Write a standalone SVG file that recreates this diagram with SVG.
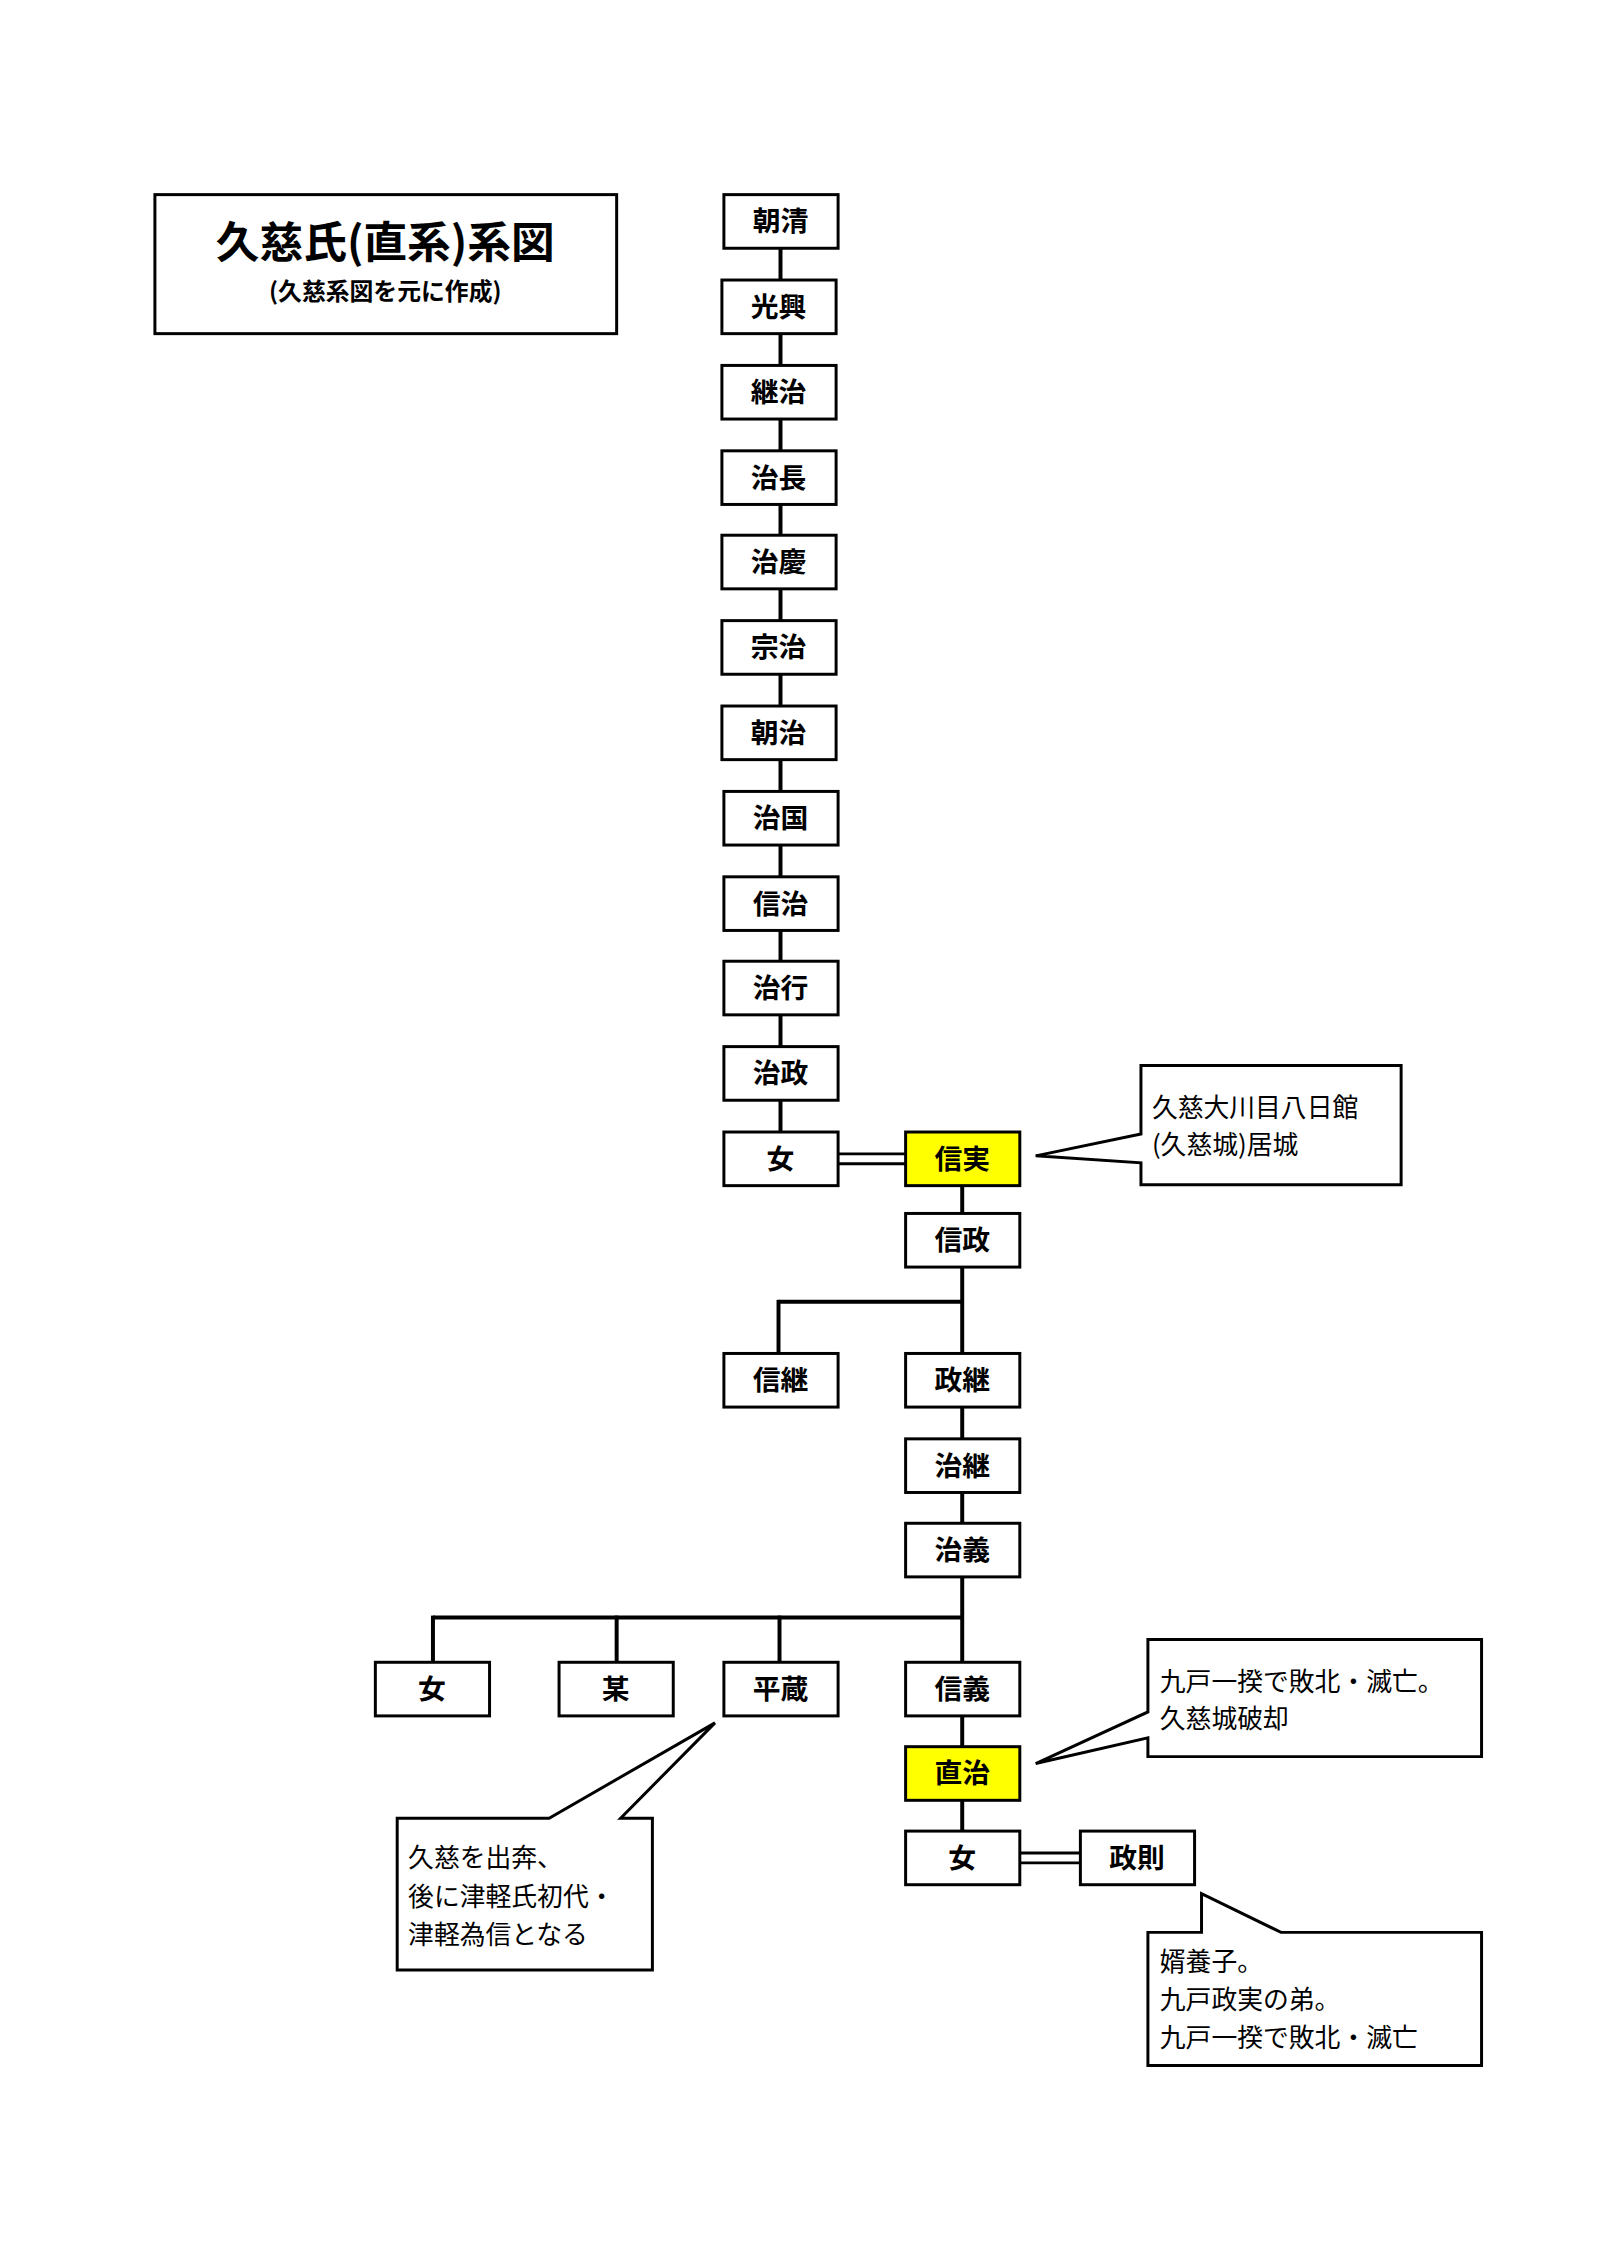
<svg xmlns="http://www.w3.org/2000/svg" width="1600" height="2263" viewBox="0 0 1600 2263">
<style>
.n rect{fill:#fff;stroke:#000;stroke-width:3}
.y rect{fill:#ff0}
text{font-family:"Noto Sans CJK JP",sans-serif;fill:#000}
.n text{font-size:28px;font-weight:bold;text-anchor:middle}
.c path{fill:#fff;stroke:#000;stroke-width:3}
.c text{font-size:26px}
#conn line{stroke:#000;stroke-width:4}
</style>
<rect width="1600" height="2263" fill="#fff"/>
<g transform="scale(0.993)">
<g id="title" class="n"><rect x="156" y="196" width="465" height="140"/>
<text x="388" y="260" style="font-size:44px">久慈氏(直系)系図</text>
<text x="388" y="302" style="font-size:24px">(久慈系図を元に作成)</text></g>
<g id="conn">
<line x1="786" y1="220" x2="786" y2="1167"/>
<line x1="844" y1="1162" x2="912" y2="1162" style="stroke-width:3"/>
<line x1="844" y1="1172" x2="912" y2="1172" style="stroke-width:3"/>
<line x1="969" y1="1194" x2="969" y2="1888"/>
<line x1="784" y1="1311" x2="969" y2="1311"/>
<line x1="784" y1="1309" x2="784" y2="1363"/>
<line x1="436" y1="1629" x2="969" y2="1629"/>
<line x1="436" y1="1627" x2="436" y2="1674"/>
<line x1="621" y1="1627" x2="621" y2="1674"/>
<line x1="785" y1="1627" x2="785" y2="1674"/>
<line x1="1027" y1="1866" x2="1088" y2="1866" style="stroke-width:3"/>
<line x1="1027" y1="1876" x2="1088" y2="1876" style="stroke-width:3"/>
</g>
<g id="n1" class="n"><rect x="729" y="196" width="115" height="54"/><text x="786" y="233">朝清</text></g>
<g id="n2" class="n"><rect x="727" y="282" width="115" height="54"/><text x="784" y="319">光興</text></g>
<g id="n3" class="n"><rect x="727" y="368" width="115" height="54"/><text x="784" y="405">継治</text></g>
<g id="n4" class="n"><rect x="727" y="454" width="115" height="54"/><text x="784" y="491">治長</text></g>
<g id="n5" class="n"><rect x="727" y="539" width="115" height="54"/><text x="784" y="576">治慶</text></g>
<g id="n6" class="n"><rect x="727" y="625" width="115" height="54"/><text x="784" y="662">宗治</text></g>
<g id="n7" class="n"><rect x="727" y="711" width="115" height="54"/><text x="784" y="748">朝治</text></g>
<g id="n8" class="n"><rect x="729" y="797" width="115" height="54"/><text x="786" y="834">治国</text></g>
<g id="n9" class="n"><rect x="729" y="883" width="115" height="54"/><text x="786" y="920">信治</text></g>
<g id="n10" class="n"><rect x="729" y="968" width="115" height="54"/><text x="786" y="1005">治行</text></g>
<g id="n11" class="n"><rect x="729" y="1054" width="115" height="54"/><text x="786" y="1091">治政</text></g>
<g id="n12" class="n"><rect x="729" y="1140" width="115" height="54"/><text x="786" y="1177">女</text></g>
<g id="n13" class="n y"><rect x="912" y="1140" width="115" height="54"/><text x="969" y="1177">信実</text></g>
<g id="n14" class="n"><rect x="912" y="1222" width="115" height="54"/><text x="969" y="1259">信政</text></g>
<g id="n15" class="n"><rect x="729" y="1363" width="115" height="54"/><text x="786" y="1400">信継</text></g>
<g id="n16" class="n"><rect x="912" y="1363" width="115" height="54"/><text x="969" y="1400">政継</text></g>
<g id="n17" class="n"><rect x="912" y="1449" width="115" height="54"/><text x="969" y="1486">治継</text></g>
<g id="n18" class="n"><rect x="912" y="1534" width="115" height="54"/><text x="969" y="1571">治義</text></g>
<g id="n19" class="n"><rect x="378" y="1674" width="115" height="54"/><text x="435" y="1711">女</text></g>
<g id="n20" class="n"><rect x="563" y="1674" width="115" height="54"/><text x="620" y="1711">某</text></g>
<g id="n21" class="n"><rect x="729" y="1674" width="115" height="54"/><text x="786" y="1711">平蔵</text></g>
<g id="n22" class="n"><rect x="912" y="1674" width="115" height="54"/><text x="969" y="1711">信義</text></g>
<g id="n23" class="n y"><rect x="912" y="1759" width="115" height="54"/><text x="969" y="1796">直治</text></g>
<g id="n24" class="n"><rect x="912" y="1844" width="115" height="54"/><text x="969" y="1881">女</text></g>
<g id="n25" class="n"><rect x="1088" y="1844" width="115" height="54"/><text x="1145" y="1881">政則</text></g>
<g id="c1" class="c"><path d="M1149,1073 H1411 V1193 H1149 V1171 L1043,1164 L1149,1142 Z"/>
<text x="1160" y="1125">久慈大川目八日館</text><text x="1160" y="1162">(久慈城)居城</text></g>
<g id="c2" class="c"><path d="M1156,1651 H1492 V1769 H1156 V1750 L1043,1776 L1156,1724 Z"/>
<text x="1168" y="1703">九戸一揆で敗北・滅亡。</text><text x="1168" y="1740">久慈城破却</text></g>
<g id="c3" class="c"><path d="M400,1831 H553 L720,1735 L625,1831 H657 V1984 H400 Z"/>
<text x="411" y="1880">久慈を出奔、</text><text x="411" y="1919">後に津軽氏初代・</text><text x="411" y="1958">津軽為信となる</text></g>
<g id="c4" class="c"><path d="M1156,1946 H1210 V1907 L1290,1946 H1492 V2080 H1156 Z"/>
<text x="1168" y="1985">婿養子。</text><text x="1168" y="2023">九戸政実の弟。</text><text x="1168" y="2061">九戸一揆で敗北・滅亡</text></g>
</g>
</svg>
